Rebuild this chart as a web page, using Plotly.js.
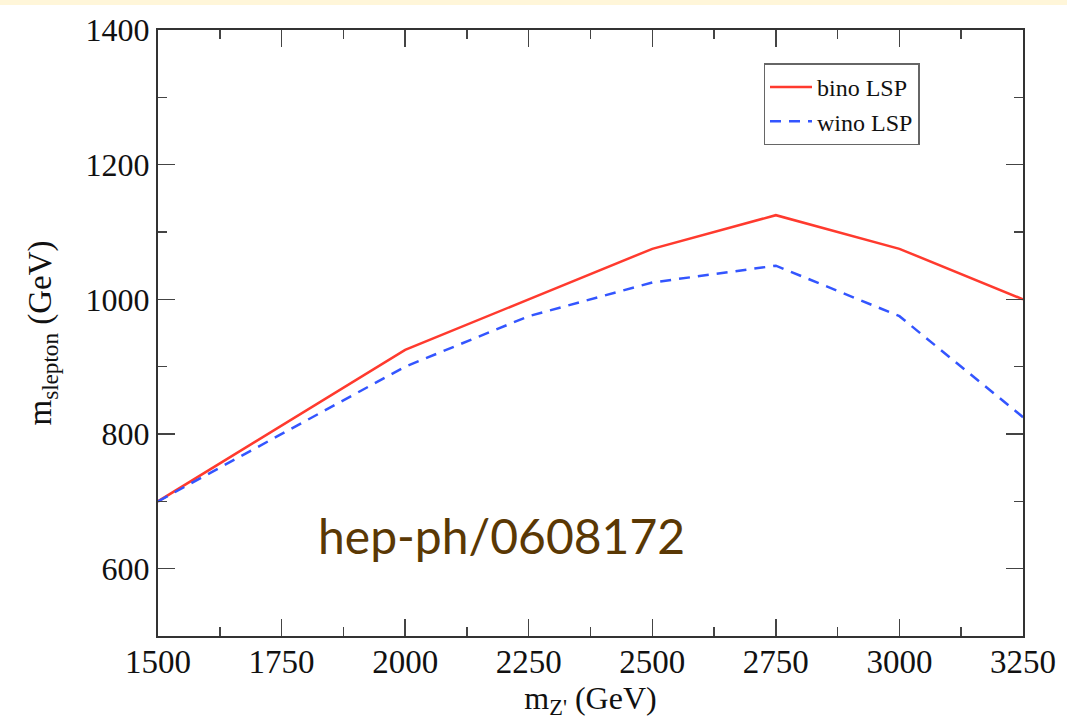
<!DOCTYPE html>
<html>
<head>
<meta charset="utf-8">
<script src="https://cdn.plot.ly/plotly-3.0.1.min.js"></script>
<style>
  html, body { margin:0; padding:0; background:#ffffff; }
  #topband { position:absolute; left:0; top:0; width:1067px; height:5px; background:#fff6d9; z-index:10; }
  #chart { width:1067px; height:724px; }
</style>
</head>
<body>
<div id="topband"></div>
<div id="chart"></div>
<script>
const mZ = [1500, 1750, 2000, 2250, 2500, 2750, 3000, 3250];
const binoLSP = [700, 812, 925, 1000, 1075, 1125, 1075, 1000];
const winoLSP = [700, 800, 900, 975, 1025, 1050, 975, 825];
const xTicks = [1500, 1750, 2000, 2250, 2500, 2750, 3000, 3250];
const yTicks = [600, 800, 1000, 1200, 1400];

const traces = [
  { x: mZ, y: binoLSP, name: 'bino LSP', mode: 'lines', type: 'scatter',
    line: { color: '#ff3a2e', width: 2.5 } },
  { x: mZ, y: winoLSP, name: 'wino LSP', mode: 'lines', type: 'scatter',
    line: { color: '#3355ff', width: 2.5, dash: '11px,8px' } }
];

const serif = 'Liberation Serif, Times New Roman, serif';
const axisCommon = {
  showgrid: false, zeroline: false,
  showline: true, linecolor: '#333333', linewidth: 2,
  mirror: 'ticks', ticks: 'inside', ticklen: 17, tickwidth: 1.5, tickcolor: '#444444',
  tickfont: { family: serif, size: 33, color: '#111111' }
};

const layout = {
  width: 1067, height: 724,
  margin: { l: 158, r: 44, t: 30, b: 88 },
  paper_bgcolor: '#ffffff', plot_bgcolor: '#ffffff',
  showlegend: true,
  legend: {
    x: 0.700, y: 0.945, xanchor: 'left', yanchor: 'top',
    bgcolor: '#ffffff', bordercolor: '#666666', borderwidth: 1.5,
    font: { family: serif, size: 24, color: '#111111' },
    tracegroupgap: 0, itemwidth: 42
  },
  xaxis: Object.assign({}, axisCommon, {
    range: [1500, 3250], tickvals: xTicks, ticktext: xTicks.map(String),
    ticklabelstandoff: -5,
    minor: { dtick: 125, tick0: 1500, ticks: 'inside', ticklen: 9, tickwidth: 1.5, tickcolor: '#444444' },
    title: { text: "m<sub>Z'</sub> (GeV)", standoff: 0,
      font: { family: serif, size: 32, color: '#111111' } }
  }),
  yaxis: Object.assign({}, axisCommon, {
    range: [500, 1400], tickvals: yTicks, ticktext: yTicks.map(String),
    tickfont: { family: serif, size: 32, color: '#111111' },
    minor: { dtick: 100, tick0: 500, ticks: 'inside', ticklen: 9, tickwidth: 1.5, tickcolor: '#444444' },
    title: { text: 'm<sub>slepton</sub> (GeV)', standoff: 24,
      font: { family: serif, size: 33, color: '#111111' } }
  }),
  annotations: [
    { text: 'hep-ph/0608172', xref: 'paper', yref: 'paper', x: 0.183, y: 0.115,
      xanchor: 'left', yanchor: 'bottom', showarrow: false,
      font: { family: 'Lato, Open Sans, sans-serif', size: 48, color: '#5a3804' } }
  ]
};

Plotly.newPlot('chart', traces, layout, { displayModeBar: false, staticPlot: true });
</script>
</body>
</html>
